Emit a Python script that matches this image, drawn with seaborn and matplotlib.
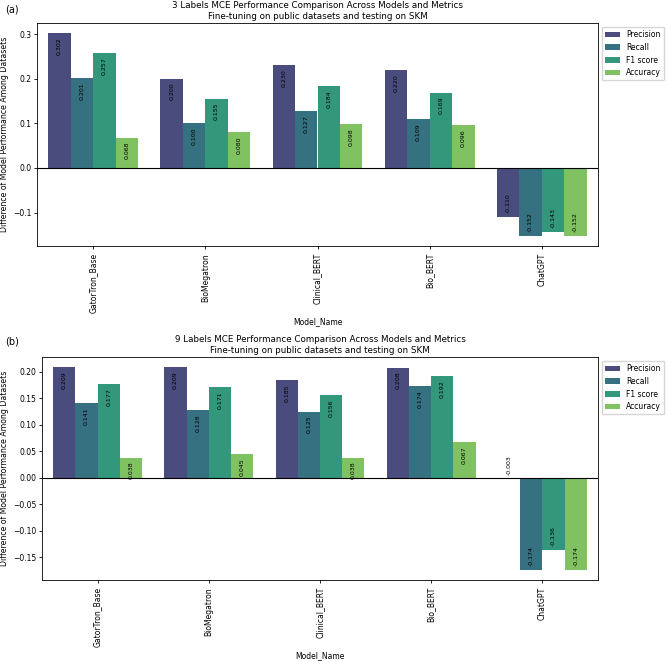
import matplotlib
matplotlib.use("Agg")
import matplotlib.pyplot as plt
import seaborn as sns
import pandas as pd

models = ["GatorTron_Base", "BioMegatron", "Clinical_BERT", "Bio_BERT", "ChatGPT"]
metrics = ["Precision", "Recall", "F1 score", "Accuracy"]

a_precision = [0.302, 0.200, 0.230, 0.220, -0.110]
a_recall = [0.201, 0.100, 0.127, 0.109, -0.152]
a_f1 = [0.257, 0.155, 0.184, 0.169, -0.143]
a_accuracy = [0.068, 0.080, 0.098, 0.096, -0.152]

b_precision = [0.209, 0.209, 0.185, 0.208, -0.003]
b_recall = [0.141, 0.128, 0.125, 0.174, -0.174]
b_f1 = [0.177, 0.171, 0.156, 0.192, -0.136]
b_accuracy = [0.038, 0.045, 0.038, 0.067, -0.174]

title_a = "3 Labels MCE Performance Comparison Across Models and Metrics\nFine-tuning on public datasets and testing on SKM"
title_b = "9 Labels MCE Performance Comparison Across Models and Metrics\nFine-tuning on public datasets and testing on SKM"


def make_df(p, r, f, a):
    rows = []
    for name, vals in zip(metrics, [p, r, f, a]):
        for m, v in zip(models, vals):
            rows.append({"Model_Name": m, "Metric": name, "Value": v})
    return pd.DataFrame(rows)


df_a = make_df(a_precision, a_recall, a_f1, a_accuracy)
df_b = make_df(b_precision, b_recall, b_f1, b_accuracy)

W, H = 669, 661
fig = plt.figure(figsize=(W / 100, H / 100), dpi=100)


def px_axes(left, top, right, bottom):
    return fig.add_axes([left / W, 1 - bottom / H, (right - left) / W, (bottom - top) / H])


ax_a = px_axes(37, 23, 598, 246)
ax_b = px_axes(42, 357, 598, 580)

FS = 5.5
for ax, df, title in [(ax_a, df_a, title_a), (ax_b, df_b, title_b)]:
    sns.barplot(data=df, x="Model_Name", y="Value", hue="Metric",
                palette="viridis", ax=ax, errorbar=None)
    ax.axhline(0, color="black", linewidth=0.8)
    for cont in ax.containers:
        for patch in cont:
            h = patch.get_height()
            x = patch.get_x() + patch.get_width() / 2
            if h >= 0:
                ax.annotate(f"{h:.3f}", (x, h), xytext=(0, -3), textcoords="offset points",
                            ha="center", va="top", rotation=90, fontsize=4.5)
            else:
                ax.annotate(f"{h:.3f}", (x, h), xytext=(0, 3), textcoords="offset points",
                            ha="center", va="bottom", rotation=90, fontsize=4.5)
    ax.set_title(title, fontsize=6.3, pad=3)
    ax.set_xlabel("Model_Name", fontsize=FS, labelpad=3)
    ax.set_ylabel("Difference of Model Performance Among Datasets", fontsize=5.6, labelpad=3)
    ax.tick_params(axis="x", labelrotation=90, labelsize=FS, length=2.5, width=0.6, pad=2.5)
    ax.tick_params(axis="y", labelsize=FS, length=2.5, width=0.6, pad=1.5)
    for s in ax.spines.values():
        s.set_linewidth(0.6)
    ax.legend(loc="upper left", bbox_to_anchor=(1.0, 1.0), fontsize=5.5)

fig.text(5 / W, 1 - 9 / H, "(a)", fontsize=7, ha="left", va="center")
fig.text(5 / W, 1 - 341 / H, "(b)", fontsize=7, ha="left", va="center")

fig.savefig("out.png", dpi=100)
